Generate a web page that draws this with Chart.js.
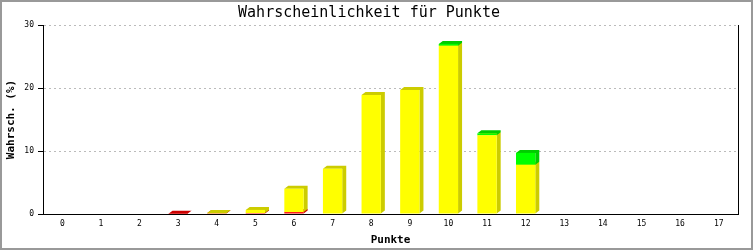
<!DOCTYPE html>
<html>
<head>
<meta charset="utf-8">
<script src="https://cdn.jsdelivr.net/npm/chart.js@4"></script>
<style>
  body { margin: 0; background: #fff; }
  canvas { display: block; }
</style>
</head>
<body>
<canvas id="chart" width="753" height="250"></canvas>
<script>
const points = ["0", "1", "2", "3", "4", "5", "6", "7", "8", "9", "10", "11", "12", "13", "14", "15", "16", "17"];
const redPart = [0, 0, 0, 0.05, 0.1, 0.15, 0.3, 0, 0, 0, 0, 0, 0, 0, 0, 0, 0, 0];
const yellowPart = [0, 0, 0, 0, 0.05, 0.5, 3.7, 7.2, 18.9, 19.7, 26.7, 12.5, 7.8, 0, 0, 0, 0, 0];
const greenPart = [0, 0, 0, 0, 0, 0, 0, 0, 0, 0, 0.3, 0.3, 1.9, 0, 0, 0, 0, 0];
const yTicks = [0, 10, 20, 30];

const DX = 4;
const DY = 3;
const mono = "'DejaVu Sans Mono', 'Liberation Mono', monospace";

// side and top faces behind the bar fronts, bottom stack first
const depthPlugin = {
  id: "depth",
  beforeDatasetsDraw(chart) {
    const ctx = chart.ctx;
    ctx.save();
    chart.data.datasets.forEach((ds, i) => {
      const meta = chart.getDatasetMeta(i);
      meta.data.forEach((bar, j) => {
        if (!ds.data[j]) return;
        const { x, y, base, width } = bar.getProps(["x", "y", "base", "width"], true);
        const l = x - width / 2;
        const r = x + width / 2;
        ctx.fillStyle = ds.sideColor;
        ctx.beginPath();
        ctx.moveTo(l, y);
        ctx.lineTo(l + DX, y - DY);
        ctx.lineTo(r + DX, y - DY);
        ctx.lineTo(r + DX, base - DY);
        ctx.lineTo(r, base);
        ctx.lineTo(r, y);
        ctx.closePath();
        ctx.fill();
      });
    });
    ctx.restore();
  },
  afterDraw(chart) {
    const { ctx, chartArea } = chart;
    ctx.save();
    ctx.strokeStyle = "#000";
    ctx.lineWidth = 1;
    ctx.beginPath();
    ctx.moveTo(Math.round(chartArea.right) + 0.5, chartArea.top);
    ctx.lineTo(Math.round(chartArea.right) + 0.5, chartArea.bottom);
    ctx.stroke();
    ctx.strokeStyle = "#999";
    ctx.lineWidth = 2;
    ctx.strokeRect(1, 1, chart.width - 2, chart.height - 2);
    ctx.restore();
  },
};

new Chart(document.getElementById("chart"), {
  type: "bar",
  data: {
    labels: points,
    datasets: [
      { data: redPart, backgroundColor: "#ff0000", sideColor: "#cc0000" },
      { data: yellowPart, backgroundColor: "#ffff00", sideColor: "#cccc00" },
      { data: greenPart, backgroundColor: "#00ff00", sideColor: "#00cc00" },
    ],
  },
  options: {
    responsive: false,
    animation: false,
    layout: { padding: { top: 0, right: 15, left: 0, bottom: 0 } },
    datasets: {
      bar: { barPercentage: 0.5, categoryPercentage: 1, borderWidth: 0 },
    },
    plugins: {
      legend: { display: false },
      tooltip: { enabled: false },
      title: {
        display: true,
        text: "Wahrscheinlichkeit für Punkte",
        color: "#000",
        font: { family: mono, size: 15, weight: "normal", lineHeight: 1.2 },
        padding: { top: 4, bottom: 3 },
      },
    },
    scales: {
      x: {
        stacked: true,
        afterFit: (s) => { s.height = 36; },
        grid: { display: true, drawOnChartArea: false, drawTicks: false },
        border: { color: "#000", width: 1 },
        ticks: { color: "#000", padding: 5, font: { family: mono, size: 8 } },
        title: {
          display: true,
          text: "Punkte",
          color: "#000",
          font: { family: mono, size: 11, weight: "bold", lineHeight: 1.2 },
          padding: { top: 0, bottom: 3 },
        },
      },
      y: {
        stacked: true,
        min: 0,
        max: 30,
        afterFit: (s) => { s.width = 43; },
        afterBuildTicks: (s) => { s.ticks = yTicks.map((v) => ({ value: v })); },
        grid: {
          color: (c) => (c.tick && c.tick.value === 0 ? "rgba(0,0,0,0)" : "#bbb"),
          tickColor: "#000",
          tickLength: 5,
          tickBorderDash: [],
        },
        border: { color: "#000", width: 1, dash: [2, 3] },
        ticks: { color: "#000", padding: 4, font: { family: mono, size: 8 } },
        title: {
          display: true,
          text: "Wahrsch. (%)",
          color: "#000",
          font: { family: mono, size: 11, weight: "bold", lineHeight: 1.2 },
          padding: { top: 5, bottom: 0 },
        },
      },
    },
  },
  plugins: [depthPlugin],
});
</script>
</body>
</html>
